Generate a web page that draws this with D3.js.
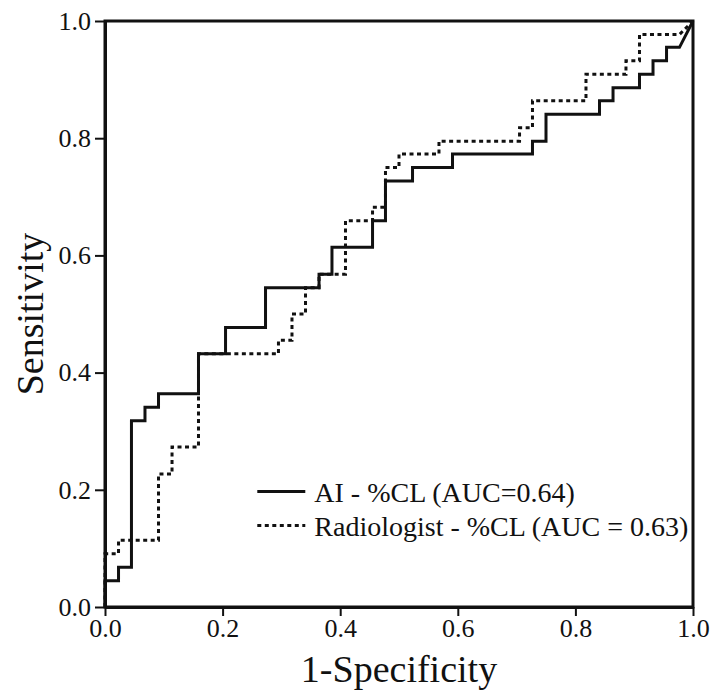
<!DOCTYPE html>
<html>
<head>
<meta charset="utf-8">
<script src="https://cdn.jsdelivr.net/npm/d3@7"></script>
<style>
  body { margin: 0; background: #fff; }
  svg text { font-family: "Liberation Serif", "Times New Roman", serif; fill: #111; }
  .axis path, .axis line { stroke: #111; }
  .axis path { stroke-width: 3; }
  .axis line { stroke-width: 2; }
  .frame { fill: none; stroke: #111; stroke-width: 3; }
  .roc { fill: none; stroke: #111; stroke-width: 3; }
  .roc.rad { stroke-dasharray: 4, 3.5; }
</style>
</head>
<body>
<svg id="chart"></svg>
<script>
// ROC corner points (1-specificity, sensitivity)
var aiFpr = [0, 0, 0.023, 0.023, 0.045, 0.045, 0.068, 0.068, 0.091, 0.091, 0.159, 0.159,
  0.205, 0.205, 0.273, 0.273, 0.364, 0.364, 0.386, 0.386, 0.455, 0.455, 0.477, 0.477,
  0.523, 0.523, 0.591, 0.591, 0.727, 0.727, 0.75, 0.75, 0.841, 0.841, 0.864, 0.864,
  0.909, 0.909, 0.932, 0.932, 0.955, 0.955, 0.977, 1];
var aiTpr = [0, 0.045, 0.045, 0.068, 0.068, 0.318, 0.318, 0.341, 0.341, 0.364, 0.364, 0.432,
  0.432, 0.477, 0.477, 0.545, 0.545, 0.568, 0.568, 0.614, 0.614, 0.659, 0.659, 0.727,
  0.727, 0.75, 0.75, 0.773, 0.773, 0.795, 0.795, 0.841, 0.841, 0.864, 0.864, 0.886,
  0.886, 0.909, 0.909, 0.932, 0.932, 0.955, 0.955, 1];

var radFpr = [0, 0, 0.023, 0.023, 0.091, 0.091, 0.114, 0.114, 0.159, 0.159, 0.295, 0.295,
  0.318, 0.318, 0.341, 0.341, 0.364, 0.364, 0.409, 0.409, 0.455, 0.455, 0.477, 0.477,
  0.5, 0.5, 0.568, 0.568, 0.705, 0.705, 0.727, 0.727, 0.818, 0.818, 0.886, 0.886,
  0.909, 0.909, 0.977, 1];
var radTpr = [0, 0.091, 0.091, 0.114, 0.114, 0.227, 0.227, 0.273, 0.273, 0.432, 0.432, 0.455,
  0.455, 0.5, 0.5, 0.545, 0.545, 0.568, 0.568, 0.659, 0.659, 0.682, 0.682, 0.75,
  0.75, 0.773, 0.773, 0.795, 0.795, 0.818, 0.818, 0.864, 0.864, 0.909, 0.909, 0.932,
  0.932, 0.977, 0.977, 1];

var tickValues = [0, 0.2, 0.4, 0.6, 0.8, 1.0];
var legendLabels = ["AI - %CL (AUC=0.64)", "Radiologist - %CL (AUC = 0.63)"];
var xTitle = "1-Specificity";
var yTitle = "Sensitivity";

var width = 713, height = 694;
var margins = { top: 21, right: 20, bottom: 87, left: 105 };
var chartWidth = width - margins.left - margins.right;
var chartHeight = height - margins.top - margins.bottom;

var svg = d3.select("#chart").attr("width", width).attr("height", height);
var chartElement = svg.append("g")
  .attr("transform", `translate(${margins.left},${margins.top})`);

var xScale = d3.scaleLinear().domain([0, 1]).range([0, chartWidth]);
var yScale = d3.scaleLinear().domain([0, 1]).range([chartHeight, 0]);

var xAxis = d3.axisBottom(xScale).tickValues(tickValues)
  .tickFormat(d3.format(".1f")).tickSize(9).tickSizeOuter(0).tickPadding(3);
var yAxis = d3.axisLeft(yScale).tickValues(tickValues)
  .tickFormat(d3.format(".1f")).tickSize(10).tickSizeOuter(0).tickPadding(4);

// box round the plot
chartElement.append("rect")
  .attr("class", "frame")
  .attr("x", 0).attr("y", 0)
  .attr("width", chartWidth).attr("height", chartHeight);

chartElement.append("g")
  .attr("class", "x axis")
  .attr("transform", `translate(0,${chartHeight})`)
  .call(xAxis)
  .selectAll("text").style("font-size", "26px");

chartElement.append("g")
  .attr("class", "y axis")
  .call(yAxis)
  .selectAll("text").style("font-size", "26px");

chartElement.selectAll(".axis text").attr("fill", "#111");

// curves
var line = d3.line()
  .x(d => xScale(d[0]))
  .y(d => yScale(d[1]));

var series = [
  { cls: "ai", pts: d3.zip(aiFpr, aiTpr) },
  { cls: "rad", pts: d3.zip(radFpr, radTpr) }
];

chartElement.selectAll("path.roc")
  .data(series)
  .enter()
  .append("path")
  .attr("class", d => "roc " + d.cls)
  .attr("d", d => line(d.pts));

// legend
var legend = chartElement.append("g")
  .attr("transform", `translate(${xScale(0.259)},${yScale(0.197)})`);

legend.selectAll("line")
  .data(series)
  .enter()
  .append("line")
  .attr("class", d => "roc " + d.cls)
  .attr("x1", 0).attr("x2", 48)
  .attr("y1", (d, i) => i * 34)
  .attr("y2", (d, i) => i * 34);

legend.selectAll("text")
  .data(legendLabels)
  .enter()
  .append("text")
  .attr("x", 57)
  .attr("y", (d, i) => i * 34 + 10)
  .style("font-size", "28px")
  .text(d => d);

// axis titles
svg.append("text")
  .attr("x", margins.left + chartWidth / 2)
  .attr("y", 682)
  .attr("text-anchor", "middle")
  .style("font-size", "38px")
  .text(xTitle);

svg.append("text")
  .attr("transform", `translate(43,${margins.top + chartHeight / 2}) rotate(-90)`)
  .attr("text-anchor", "middle")
  .style("font-size", "38px")
  .text(yTitle);
</script>
</body>
</html>
